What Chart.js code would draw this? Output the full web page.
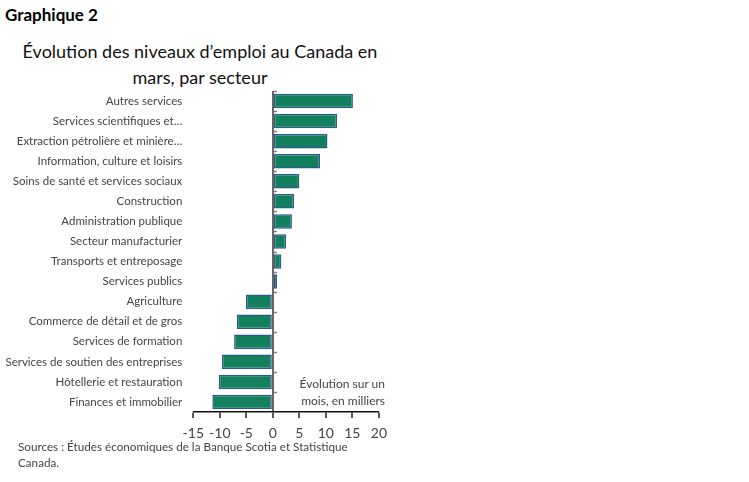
<!DOCTYPE html>
<html>
<head>
<meta charset="utf-8">
<script src="https://cdn.jsdelivr.net/npm/chart.js@4.4.1/dist/chart.umd.min.js"></script>
<style>
  html, body { margin:0; padding:0; background:#fff; width:749px; height:482px; overflow:hidden; }
  .txt { position:absolute; font-family: Lato, "Open Sans", sans-serif; white-space:nowrap; }
  #g2 { left:5px; top:4px; font-size:17px; font-weight:bold; color:#000; }
  #title { left:0; width:400px; top:38px; text-align:center; font-size:18px; line-height:26px; color:#111; }
  #src { left:18px; top:438px; font-size:11.7px; line-height:16px; color:#444; }
  #note { right:364px; top:375px; text-align:right; font-size:12px; line-height:17px; color:#444; }
  #wrap { position:absolute; left:0; top:0; width:394px; height:442px; }
</style>
</head>
<body>
<div class="txt" id="g2">Graphique 2</div>
<div class="txt" id="title">Évolution des niveaux d’emploi au Canada en<br>mars, par secteur</div>
<div id="wrap"><canvas id="c"></canvas></div>
<div class="txt" id="note">Évolution sur un<br>mois, en milliers</div>
<div class="txt" id="src">Sources : Études économiques de la Banque Scotia et Statistique<br>Canada.</div>
<script>
const categories = [
  "Autres services",
  "Services scientifiques et…",
  "Extraction pétrolière et minière…",
  "Information, culture et loisirs",
  "Soins de santé et services sociaux",
  "Construction",
  "Administration publique",
  "Secteur manufacturier",
  "Transports et entreposage",
  "Services publics",
  "Agriculture",
  "Commerce de détail et de gros",
  "Services de formation",
  "Services de soutien des entreprises",
  "Hôtellerie et restauration",
  "Finances et immobilier"
];
const values = [15.1, 12.1, 10.3, 8.9, 5.0, 4.0, 3.6, 2.5, 1.6, 0.8, -5.1, -6.8, -7.3, -9.6, -10.2, -11.4];
const xMin = -15, xMax = 20, xStep = 5;

const catTicks = {
  id: 'catTicks',
  afterDatasetsDraw(chart) {
    const x = chart.scales.x, y = chart.scales.y, ctx = chart.ctx;
    const x0 = x.getPixelForValue(0);
    const half = (y.getPixelForValue(1) - y.getPixelForValue(0)) / 2;
    ctx.save();
    ctx.strokeStyle = '#777';
    ctx.lineWidth = 1.5;
    for (let i = 0; i < categories.length; i++) {
      const py = Math.round(y.getPixelForValue(i) - half) + 0.5;
      ctx.beginPath(); ctx.moveTo(x0, py); ctx.lineTo(x0 + 4, py); ctx.stroke();
    }
    ctx.restore();
  }
};

new Chart(document.getElementById('c'), {
  type: 'bar',
  data: {
    labels: categories,
    datasets: [{
      data: values,
      backgroundColor: '#12805c',
      borderColor: '#2b5a8c',
      borderWidth: 1.5,
      borderSkipped: false,
      barPercentage: 0.72,
      categoryPercentage: 1
    }]
  },
  options: {
    indexAxis: 'y',
    responsive: true,
    maintainAspectRatio: false,
    animation: false,
    layout: { padding: { top: 91, left: 0, right: 0, bottom: 0 } },
    plugins: { legend: { display: false }, tooltip: { enabled: false }, title: { display: false } },
    scales: {
      x: {
        min: xMin, max: xMax,
        ticks: { stepSize: xStep, color: '#444', font: { family: 'Lato', size: 14 }, padding: 7 },
        grid: {
          color: (c) => (c.tick && c.tick.value === 0 ? '#666' : 'transparent'),
          lineWidth: (c) => (c.tick && c.tick.value === 0 ? 2 : 0),
          tickColor: '#222', tickLength: 6, tickWidth: 1.5, drawTicks: true
        },
        border: { display: true, color: '#111', width: 1.5 },
        afterFit(s) { s.height = 30; }
      },
      y: {
        ticks: { color: '#444', font: { family: 'Lato', size: 11.5 }, padding: 11, autoSkip: false },
        grid: { display: false, drawTicks: false },
        border: { display: false },
        afterFit(s) { s.width = 193.3; }
      }
    }
  },
  plugins: [catTicks]
});
</script>
</body>
</html>
